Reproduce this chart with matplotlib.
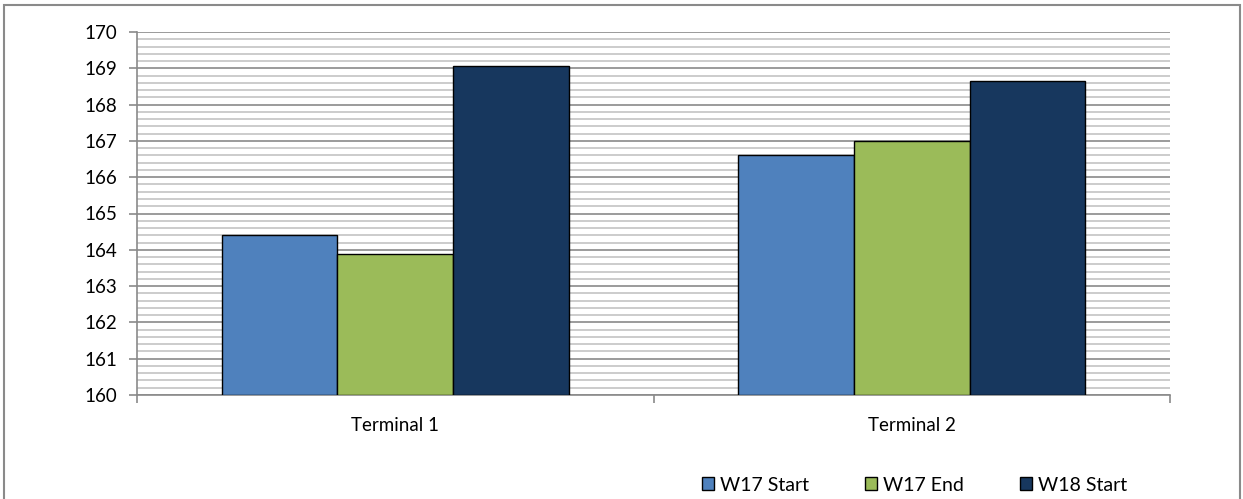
import matplotlib
matplotlib.use("Agg")
import matplotlib.pyplot as plt
import numpy as np
from matplotlib.patches import Rectangle, Patch
from matplotlib.ticker import MultipleLocator

categories = ["Terminal 1", "Terminal 2"]
series_names = ["W17 Start", "W17 End", "W18 Start"]
w17_start = [164.4, 166.62]
w17_end = [163.88, 167.0]
w18_start = [169.05, 168.65]
colors = ["#4F81BD", "#9BBB59", "#17375E"]

plt.rcParams['font.family'] = ['Lato', 'DejaVu Sans']
FS = 13.5

fig = plt.figure(figsize=(12.43, 4.99), dpi=100)
ax = fig.add_axes([137/1243, 104/499, (1170-137)/1243, (395-32)/499])

x = np.arange(len(categories))
bw = 0.224
for i, (vals, c) in enumerate(zip([w17_start, w17_end, w18_start], colors)):
    ax.bar(x + (i-1)*bw, np.array(vals) - 160, bottom=160, width=bw, color=c,
           edgecolor="black", linewidth=1.0, zorder=3, label=series_names[i])

ax.set_xlim(-0.5, 1.5)
ax.set_ylim(160, 170)
ax.yaxis.set_major_locator(MultipleLocator(1))
ax.yaxis.set_minor_locator(MultipleLocator(0.2))
ax.grid(which='minor', axis='y', color='#c4c4c4', linewidth=1.2, zorder=0)
ax.grid(which='major', axis='y', color='#8a8a8a', linewidth=1.2, zorder=1)

for s in ['top', 'right']:
    ax.spines[s].set_visible(False)
for s in ['left', 'bottom']:
    ax.spines[s].set_color('#8a8a8a')
    ax.spines[s].set_linewidth(1.2)

ax.tick_params(axis='y', which='major', length=6, color='#8a8a8a', width=1.2,
               labelsize=FS, pad=8)
ax.tick_params(axis='y', which='minor', length=0)
ax.set_xticks([-0.5, 0.5, 1.5])
ax.set_xticklabels([])
ax.tick_params(axis='x', length=6, color='#8a8a8a', width=1.2)
for xi, lab in zip(x, categories):
    ax.text(xi, -0.085, lab, transform=ax.get_xaxis_transform(), ha='center',
            va='center', fontsize=FS)

handles = [Patch(facecolor=c, edgecolor='black', linewidth=1.0) for c in colors]
fig.legend(handles, series_names, loc='center left', bbox_to_anchor=(702/1243, 0.028),
           ncol=3, frameon=False, fontsize=14, handlelength=0.62, handleheight=0.62,
           handletextpad=0.3, columnspacing=2.9, borderpad=0, borderaxespad=0)

fig.patches.append(Rectangle((4/1243, -0.05), (1240-4)/1243, 1 - 5/499 + 0.05,
                             transform=fig.transFigure, fill=False,
                             edgecolor='#8a8a8a', linewidth=1.5))

fig.savefig("out.png", dpi=100)
